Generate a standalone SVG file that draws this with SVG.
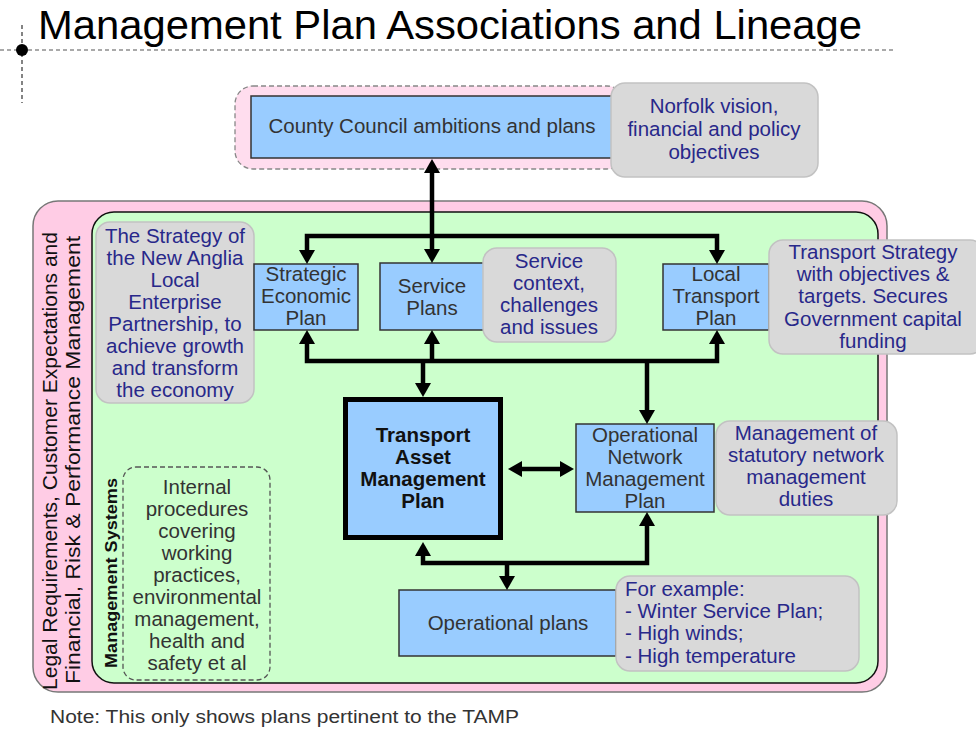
<svg xmlns="http://www.w3.org/2000/svg" width="976" height="729" viewBox="0 0 976 729">
  <defs>
    <style>
      text { font-family: "Liberation Sans", Arial, sans-serif; }
      .box { fill: #99CCFF; stroke: #333333; stroke-width: 1.5; }
      .note { fill: #D9D9D9; stroke: #C2C2C2; stroke-width: 1.5; }
      .bt { font-size: 20.5px; fill: #333333; text-anchor: middle; }
      .bb { font-size: 20.5px; fill: #111111; text-anchor: middle; font-weight: bold; }
      .nt { font-size: 20.5px; fill: #28288A; text-anchor: middle; }
      .ntl { font-size: 20.5px; fill: #28288A; text-anchor: start; }
      .conn { fill: none; stroke: #000000; stroke-width: 4.5; stroke-linejoin: miter; marker-end: url(#ah); }
      .both { marker-start: url(#ah); }
      .side { font-size: 20px; fill: #111111; text-anchor: middle; }
    </style>
    <marker id="ah" viewBox="0 0 14 16" markerWidth="14" markerHeight="16" refX="4" refY="8" orient="auto-start-reverse" markerUnits="userSpaceOnUse">
      <path d="M0,0 L14,8 L0,16 z" fill="#000000"/>
    </marker>
  </defs>

  <rect width="976" height="729" fill="#FFFFFF"/>

  <!-- heading with guide lines -->
  <g id="heading">
    <line x1="0" y1="50" x2="893" y2="50" stroke="#555555" stroke-width="1.2" stroke-dasharray="4,3"/>
    <line x1="22" y1="25" x2="22" y2="103" stroke="#333333" stroke-width="1.2" stroke-dasharray="4,3"/>
    <circle cx="22" cy="50" r="6" fill="#000000"/>
    <text x="38" y="39" font-size="40" fill="#000000" textLength="824" lengthAdjust="spacingAndGlyphs">Management Plan Associations and Lineage</text>
  </g>

  <!-- county level -->
  <g id="county-frame">
    <rect x="235" y="86" width="390" height="83" rx="18" fill="#FFDDEE" stroke="#888888" stroke-width="1.3" stroke-dasharray="5,3"/>
  </g>
  <g id="county-council">
    <rect class="box" x="251" y="96" width="362" height="62"/>
    <text class="bt" x="432" y="133">County Council ambitions and plans</text>
  </g>
  <g id="norfolk-note">
    <rect class="note" x="611" y="83" width="207" height="94" rx="14"/>
    <text class="nt" x="714" y="113">Norfolk vision,</text>
    <text class="nt" x="714" y="136">financial and policy</text>
    <text class="nt" x="714" y="159">objectives</text>
  </g>

  <!-- outer requirement band -->
  <g id="requirements-frame">
    <rect x="33" y="201" width="854" height="491" rx="25" fill="#FFCCE5" stroke="#777777" stroke-width="1.5"/>
    <text class="side" transform="translate(57,461) rotate(-90)" textLength="458" lengthAdjust="spacingAndGlyphs">Legal Requirements, Customer Expectations and</text>
    <text class="side" transform="translate(80,460) rotate(-90)" textLength="448" lengthAdjust="spacingAndGlyphs">Financial, Risk &amp; Performance Management</text>
  </g>

  <!-- management systems area -->
  <g id="management-systems">
    <rect x="92" y="212" width="786" height="471" rx="22" fill="#CCFFCC" stroke="#111111" stroke-width="1.5"/>
    <text transform="translate(117,573) rotate(-90)" font-size="17" font-weight="bold" fill="#111111" text-anchor="middle" textLength="190" lengthAdjust="spacingAndGlyphs">Management Systems</text>
  </g>

  <g id="internal-procedures">
    <rect x="123" y="467" width="147" height="213" rx="13" fill="none" stroke="#555555" stroke-width="1.3" stroke-dasharray="5,3"/>
    <text class="bt" x="197" y="494">Internal</text>
    <text class="bt" x="197" y="516">procedures</text>
    <text class="bt" x="197" y="538">covering</text>
    <text class="bt" x="197" y="560">working</text>
    <text class="bt" x="197" y="582">practices,</text>
    <text class="bt" x="197" y="604">environmental</text>
    <text class="bt" x="197" y="626">management,</text>
    <text class="bt" x="197" y="648">health and</text>
    <text class="bt" x="197" y="670">safety et al</text>
  </g>

  <g id="lep-note">
    <rect class="note" x="96" y="222" width="158" height="181" rx="14"/>
    <text class="nt" x="175" y="243">The Strategy of</text>
    <text class="nt" x="175" y="265">the New Anglia</text>
    <text class="nt" x="175" y="287">Local</text>
    <text class="nt" x="175" y="309">Enterprise</text>
    <text class="nt" x="175" y="331">Partnership, to</text>
    <text class="nt" x="175" y="353">achieve growth</text>
    <text class="nt" x="175" y="375">and transform</text>
    <text class="nt" x="175" y="397">the economy</text>
  </g>

  <g id="strategic-economic-plan">
    <rect class="box" x="254" y="264" width="104" height="66"/>
    <text class="bt" x="306" y="281">Strategic</text>
    <text class="bt" x="306" y="303">Economic</text>
    <text class="bt" x="306" y="325">Plan</text>
  </g>

  <g id="service-plans">
    <rect class="box" x="380" y="263" width="104" height="67"/>
    <text class="bt" x="432" y="293">Service</text>
    <text class="bt" x="432" y="315">Plans</text>
  </g>

  <g id="service-note">
    <rect class="note" x="483" y="248" width="133" height="94" rx="14"/>
    <text class="nt" x="549" y="268">Service</text>
    <text class="nt" x="549" y="290">context,</text>
    <text class="nt" x="549" y="312">challenges</text>
    <text class="nt" x="549" y="334">and issues</text>
  </g>

  <g id="local-transport-plan">
    <rect class="box" x="663" y="264" width="106" height="66"/>
    <text class="bt" x="716" y="281">Local</text>
    <text class="bt" x="716" y="303">Transport</text>
    <text class="bt" x="716" y="325">Plan</text>
  </g>

  <g id="ltp-note">
    <rect class="note" x="769" y="240" width="215" height="114" rx="14"/>
    <text class="nt" x="873" y="259">Transport Strategy</text>
    <text class="nt" x="873" y="281">with objectives &amp;</text>
    <text class="nt" x="873" y="303">targets. Secures</text>
    <text class="nt" x="873" y="326">Government capital</text>
    <text class="nt" x="873" y="348">funding</text>
  </g>

  <g id="tamp">
    <rect x="345.5" y="399.5" width="155" height="138" fill="#99CCFF" stroke="#000000" stroke-width="5"/>
    <text class="bb" x="423" y="442">Transport</text>
    <text class="bb" x="423" y="464">Asset</text>
    <text class="bb" x="423" y="486">Management</text>
    <text class="bb" x="423" y="508">Plan</text>
  </g>

  <g id="network-management-plan">
    <rect class="box" x="576" y="424" width="138" height="88"/>
    <text class="bt" x="645" y="442">Operational</text>
    <text class="bt" x="645" y="464">Network</text>
    <text class="bt" x="645" y="486">Management</text>
    <text class="bt" x="645" y="508">Plan</text>
  </g>

  <g id="network-note">
    <rect class="note" x="716" y="421" width="181" height="94" rx="14"/>
    <text class="nt" x="806" y="440">Management of</text>
    <text class="nt" x="806" y="462">statutory network</text>
    <text class="nt" x="806" y="484">management</text>
    <text class="nt" x="806" y="506">duties</text>
  </g>

  <g id="operational-plans">
    <rect class="box" x="399" y="590" width="217" height="66"/>
    <text class="bt" x="508" y="630">Operational plans</text>
  </g>

  <g id="examples-note">
    <rect class="note" x="616" y="576" width="243" height="95" rx="14"/>
    <text class="ntl" x="625" y="596">For example:</text>
    <text class="ntl" x="625" y="618">- Winter Service Plan;</text>
    <text class="ntl" x="625" y="640">- High winds;</text>
    <text class="ntl" x="625" y="663">- High temperature</text>
  </g>

  <!-- links between plans -->
  <g id="connectors">
    <path class="conn both" d="M432,169 V253"/>
    <path class="conn both" d="M307,254 V236 H717 V254"/>
    <path class="conn both" d="M307,340 V361 H717 V340"/>
    <path class="conn" d="M432,361 V340"/>
    <path class="conn" d="M423,361 V387"/>
    <path class="conn" d="M647,361 V414"/>
    <path class="conn both" d="M518,469 H564"/>
    <path class="conn both" d="M423,552 V563 H647 V522"/>
    <path class="conn" d="M507,563 V580"/>
  </g>

  <text x="50" y="723" font-size="18" fill="#333333" textLength="469" lengthAdjust="spacingAndGlyphs">Note: This only shows plans pertinent to the TAMP</text>
</svg>
